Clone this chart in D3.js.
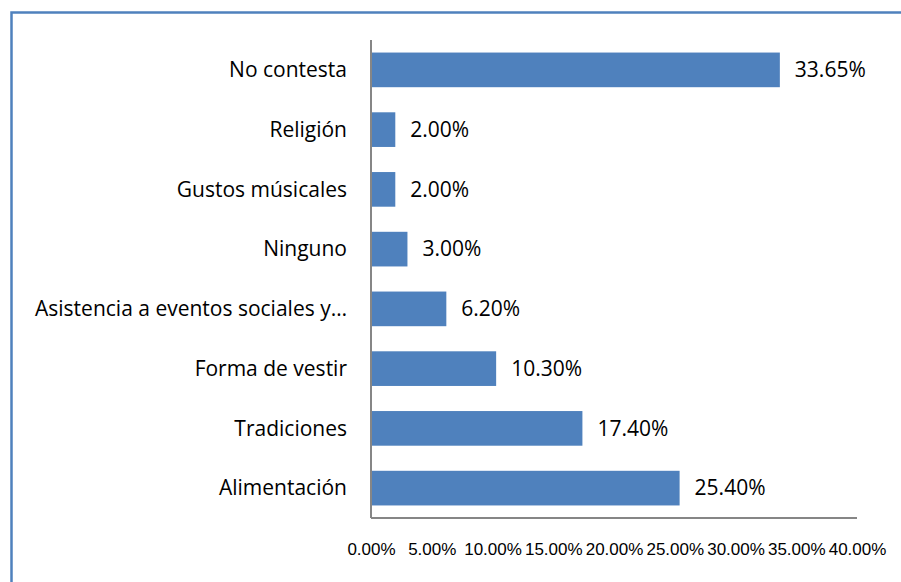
<!DOCTYPE html>
<html>
<head>
<meta charset="utf-8">
<script src="https://cdn.jsdelivr.net/npm/d3@7"></script>
<style>
  body { margin: 0; background: #fff; }
  svg { display: block; }
  .cat text, .val { font-family: "Open Sans", sans-serif; font-size: 21px; fill: #000; }
  .xax text { font-family: "Liberation Sans", Arial, sans-serif; font-size: 17px; fill: #000; }
</style>
</head>
<body>
<div class="chart"></div>
<script>
// categories top to bottom
const categories = [
  'No contesta',
  'Religión',
  'Gustos músicales',
  'Ninguno',
  'Asistencia a eventos sociales y…',
  'Forma de vestir',
  'Tradiciones',
  'Alimentación'
]

// percent values
const values = [33.65, 2.00, 2.00, 3.00, 6.20, 10.30, 17.40, 25.40]

const xTicks = [0, 5, 10, 15, 20, 25, 30, 35, 40]

const width = 901, height = 582;
const plotL = 371, plotR = 857, plotT = 40, plotB = 518;

const svg = d3.select('.chart').append('svg')
  .attr('width', width)
  .attr('height', height)

// outer frame (runs off the right and bottom edges)
svg.append('rect')
  .attr('x', 11.5)
  .attr('y', 12.5)
  .attr('width', 920)
  .attr('height', 620)
  .attr('fill', 'none')
  .attr('stroke', '#4f81bd')
  .attr('stroke-width', 2.5)

let xScale = d3.scaleLinear()
  .domain([0, 40])
  .range([plotL, plotR])

let yScale = d3.scaleBand()
  .domain(categories)
  .range([plotT, plotB])
  .paddingInner(0.42)
  .paddingOuter(0.21)

// bars
svg.selectAll('rect.bar')
  .data(values)
  .enter()
  .append('rect')
  .attr('class', 'bar')
  .attr('x', xScale(0))
  .attr('y', (d, i) => yScale(categories[i]))
  .attr('width', d => xScale(d) - xScale(0))
  .attr('height', yScale.bandwidth())
  .attr('fill', '#4f81bd')

// value labels
svg.selectAll('text.val')
  .data(values)
  .enter()
  .append('text')
  .attr('class', 'val')
  .attr('x', d => xScale(d) + 15)
  .attr('y', (d, i) => yScale(categories[i]) + yScale.bandwidth() / 2)
  .attr('dy', '0.35em')
  .text(d => d.toFixed(2) + '%')

// category axis
const yAxis = svg.append('g')
  .attr('class', 'cat')
  .attr('transform', 'translate(' + plotL + ',0)')
  .call(d3.axisLeft(yScale).tickSize(0).tickPadding(24))

yAxis.select('.domain')
  .attr('d', 'M0,' + plotT + 'V' + plotB)
  .attr('stroke', '#868686')
  .attr('stroke-width', 2)

yAxis.selectAll('.tick text').attr('dy', '0.35em')

// value axis
const xAxis = svg.append('g')
  .attr('class', 'xax')
  .attr('transform', 'translate(0,' + plotB + ')')
  .call(d3.axisBottom(xScale)
    .tickValues(xTicks)
    .tickSize(0)
    .tickPadding(25)
    .tickFormat(d => d.toFixed(2) + '%'))

xAxis.select('.domain')
  .attr('d', 'M' + plotL + ',0H' + plotR)
  .attr('stroke', '#868686')
  .attr('stroke-width', 2)
</script>
</body>
</html>
